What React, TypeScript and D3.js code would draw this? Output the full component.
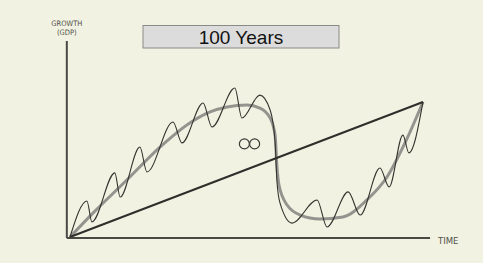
import { useEffect, useRef } from 'react';
import * as d3 from 'd3';

// time (0-100 years) vs growth (0-100)
const wavyTime = [0, 4.8, 6.2, 12.7, 14.2, 19.8, 21.8, 29.2, 31.7, 37.7, 40.2, 46.7, 48.7, 53.8, 56.7, 58.1, 58.6, 59.5, 62.9, 70.0, 72.8, 78.8, 82.2, 87.8, 90.4, 94.3, 96.0, 100];
const wavyGrowth = [0, 18.4, 7.7, 32.7, 20.4, 45.9, 33.2, 58.7, 48.0, 68.4, 56.1, 76.0, 60.7, 72.4, 64.8, 48.5, 29.1, 17.3, 7.1, 18.9, 5.1, 23.0, 11.2, 35.2, 25.5, 52.0, 42.9, 68.9];

const smoothTime = [0, 6.5, 16.1, 25.5, 34.8, 39.7, 44.5, 50.1, 53.8, 56.7, 58.1, 58.6, 59.2, 61.5, 65.2, 70.8, 77.3, 84.1, 89.8, 94.9, 100];
const smoothGrowth = [0, 12.2, 29.1, 45.9, 59.2, 63.8, 66.3, 67.3, 65.8, 60.7, 52.0, 36.7, 26.5, 16.3, 11.2, 9.2, 10.2, 18.9, 30.6, 48.0, 68.9];

const trendTime = [0, 100];
const trendGrowth = [0, 68.9];

const infinityTime = [49.4, 52.3];
const infinityGrowth = [47.5, 47.5];

const title = '100 Years';

const W = 483;
const H = 263;

const App = () => {
  const svgRef = useRef(null);

  useEffect(() => {
    if (!svgRef.current) return;
    const svg = d3.select(svgRef.current);
    svg.selectAll('*').remove();

    const x = d3.scaleLinear().domain([0, 100]).range([70, 423]);
    const y = d3.scaleLinear().domain([0, 100]).range([237, 41]);

    svg.append('rect').attr('width', W).attr('height', H).attr('fill', '#f2f2e2');

    // axes
    svg.append('line')
      .attr('x1', x(-0.9)).attr('y1', y(-0.5))
      .attr('x2', x(-0.9)).attr('y2', y(100))
      .attr('stroke', '#4a4a44').attr('stroke-width', 2);
    svg.append('line')
      .attr('x1', x(-0.9)).attr('y1', y(-0.5))
      .attr('x2', x(102)).attr('y2', y(-0.5))
      .attr('stroke', '#4a4a44').attr('stroke-width', 2);

    const labelFont = '"DejaVu Sans Condensed", "Liberation Sans Narrow", sans-serif';
    svg.append('text')
      .attr('x', x(-0.9)).attr('y', 26)
      .attr('text-anchor', 'middle')
      .style('font-family', labelFont)
      .style('font-size', '7.5px')
      .style('fill', '#50504a')
      .text('GROWTH');
    svg.append('text')
      .attr('x', x(-0.9)).attr('y', 35)
      .attr('text-anchor', 'middle')
      .style('font-family', labelFont)
      .style('font-size', '7.5px')
      .style('fill', '#50504a')
      .text('(GDP)');
    svg.append('text')
      .attr('x', 438).attr('y', 244)
      .style('font-family', labelFont)
      .style('font-size', '9.5px')
      .style('fill', '#50504a')
      .text('TIME');

    const line = d3.line()
      .x(d => x(d[0]))
      .y(d => y(d[1]))
      .curve(d3.curveMonotoneX);

    svg.append('path')
      .datum(smoothTime.map((t, i) => [t, smoothGrowth[i]]))
      .attr('d', line)
      .attr('fill', 'none')
      .attr('stroke', '#8a8a86')
      .attr('stroke-width', 3)
      .attr('stroke-opacity', 0.9);

    svg.append('path')
      .datum(trendTime.map((t, i) => [t, trendGrowth[i]]))
      .attr('d', d3.line().x(d => x(d[0])).y(d => y(d[1])))
      .attr('fill', 'none')
      .attr('stroke', '#2e2e2a')
      .attr('stroke-width', 2);

    svg.append('path')
      .datum(wavyTime.map((t, i) => [t, wavyGrowth[i]]))
      .attr('d', line)
      .attr('fill', 'none')
      .attr('stroke', '#33332f')
      .attr('stroke-width', 1.1);

    // infinity mark
    svg.selectAll('circle.inf')
      .data(infinityTime.map((t, i) => [t, infinityGrowth[i]]))
      .enter()
      .append('circle')
      .attr('class', 'inf')
      .attr('cx', d => x(d[0]))
      .attr('cy', d => y(d[1]))
      .attr('r', 5)
      .attr('fill', 'none')
      .attr('stroke', '#3a3a36')
      .attr('stroke-width', 1.2);

    // title box
    svg.append('rect')
      .attr('x', 143).attr('y', 25.5)
      .attr('width', 196).attr('height', 22.5)
      .attr('fill', '#dcdcdc')
      .attr('stroke', '#8a8a86')
      .attr('stroke-width', 1);
    svg.append('text')
      .attr('x', 241).attr('y', 44)
      .attr('text-anchor', 'middle')
      .style('font-family', '"Liberation Sans", Arial, sans-serif')
      .style('font-size', '19px')
      .style('fill', '#111')
      .text(title);
  }, []);

  return (
    <div style={{ position: 'absolute', left: 0, top: 0 }}>
      <svg ref={svgRef} width={W} height={H} style={{ display: 'block' }}></svg>
    </div>
  );
};

export default App;
